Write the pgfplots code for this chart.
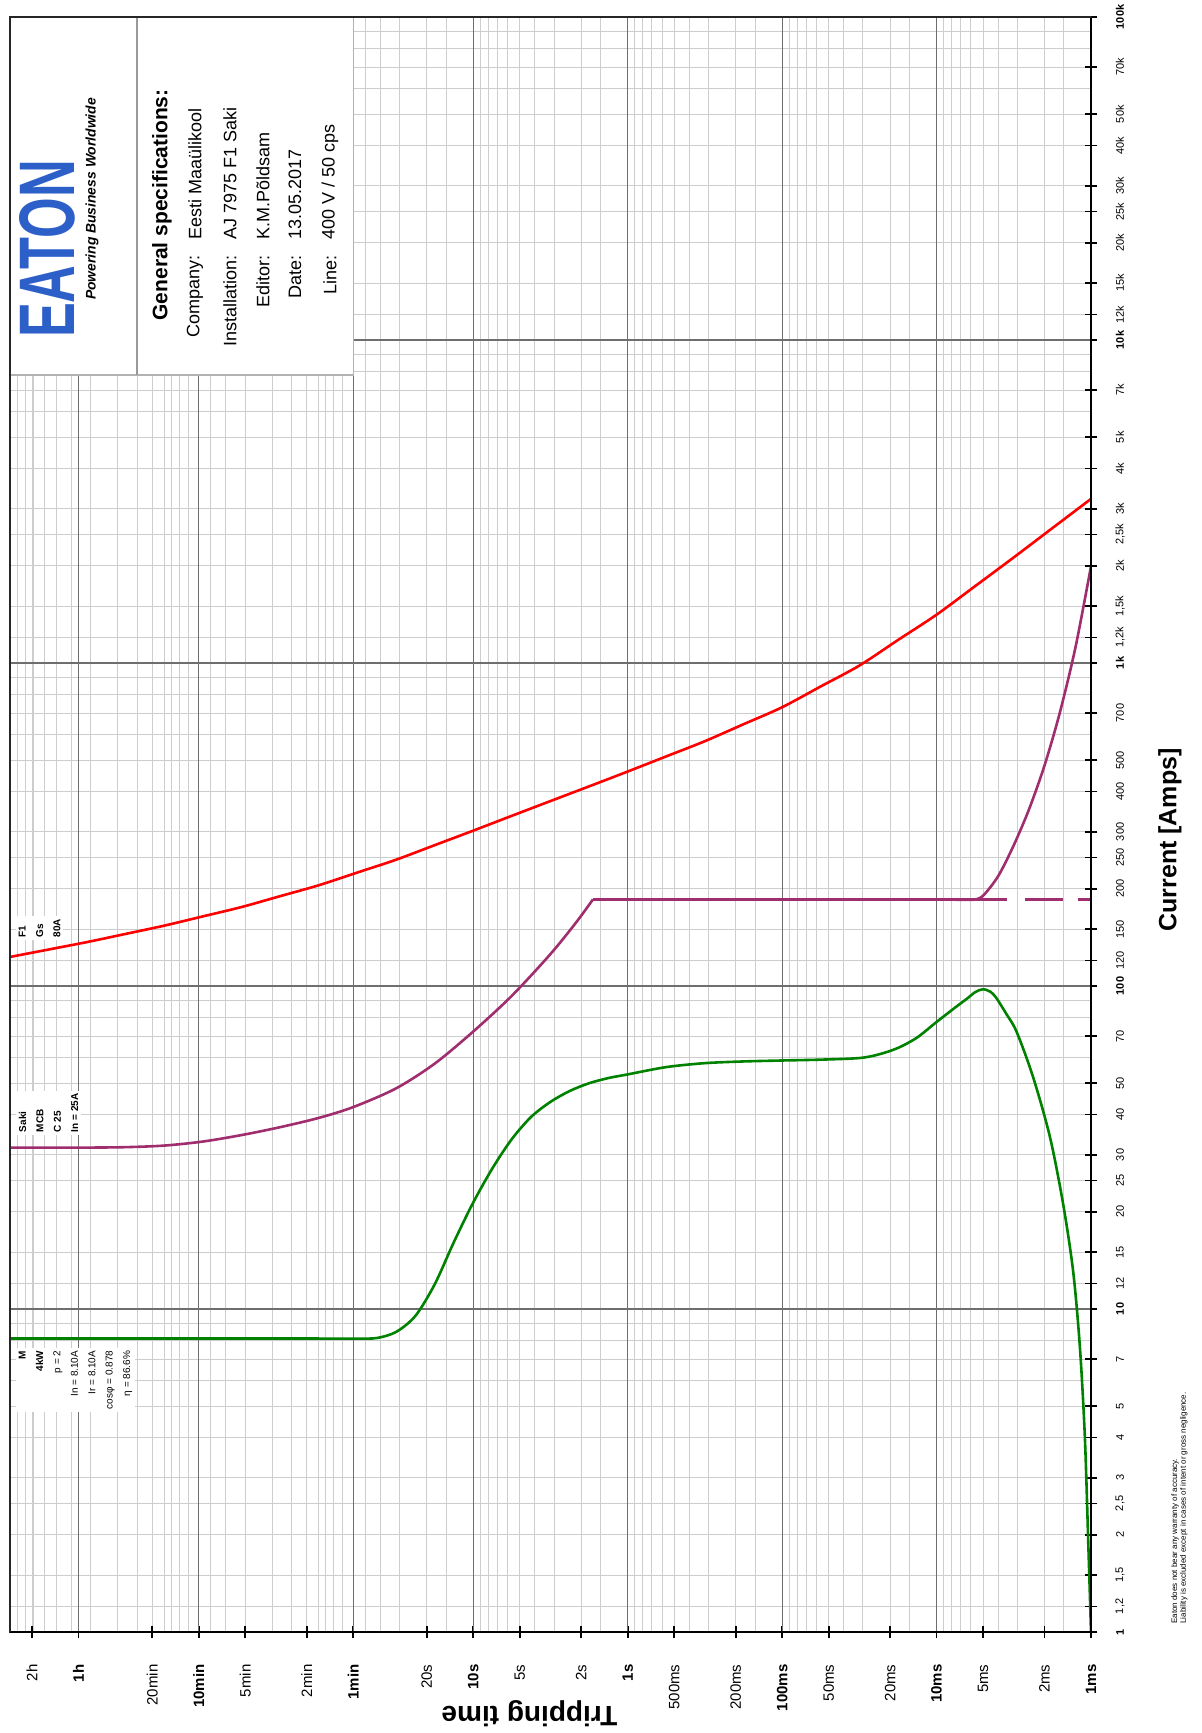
\documentclass[border=0pt]{standalone}
\usepackage{fontspec}
\setmainfont{Liberation Sans}
\usepackage{graphicx}
\usepackage{pgfplots}
\pgfplotsset{compat=1.18}
\definecolor{fuse}{RGB}{255,0,0}
\definecolor{mcb}{RGB}{160,45,110}
\definecolor{motor}{RGB}{0,130,0}
\definecolor{eaton}{RGB}{45,95,200}
\definecolor{gmin}{RGB}{205,205,205}
\definecolor{gmaj}{RGB}{110,110,110}
\begin{document}
\begin{tikzpicture}
\path[use as bounding box] (-5pt,-50.5pt) rectangle (596pt,816pt);
\begin{axis}[
  at={(0pt,0pt)}, anchor=south west,
  scale only axis, width=540.5pt, height=807.5pt,
  xmode=log, ymode=log, x dir=reverse,
  xmin=0.001, xmax=10000, ymin=1, ymax=100000,
  axis line style={black!85, line width=0.6pt},
  xtick pos=left, ytick pos=right, yticklabel pos=right,
  xtick={7200,3600,1200,600,300,120,60,20,10,5,2,1,0.5,0.2,0.1,0.05,0.02,0.01,0.005,0.002,0.001},
  xticklabels={2h,\textbf{1h},20min,\textbf{10min},5min,2min,\textbf{1min},20s,\textbf{10s},5s,2s,\textbf{1s},500ms,200ms,\textbf{100ms},50ms,20ms,\textbf{10ms},5ms,2ms,\textbf{1ms}},
  ytick={1,1.2,1.5,2,2.5,3,4,5,7,10,12,15,20,25,30,40,50,70,100,120,150,200,250,300,400,500,700,1000,1200,1500,2000,2500,3000,4000,5000,7000,10000,12000,15000,20000,25000,30000,40000,50000,70000,100000},
  yticklabels={\textbf{1},{1,2},{1,5},2,{2,5},3,4,5,7,\textbf{10},12,15,20,25,30,40,50,70,\textbf{100},120,150,200,250,300,400,500,700,\textbf{1k},{1,2k},{1,5k},2k,{2,5k},3k,4k,5k,7k,\textbf{10k},12k,15k,20k,25k,30k,40k,50k,70k,\textbf{100k}},
  minor xtick={0.001,0.0015,0.002,0.003,0.004,0.005,0.006,0.007,0.008,0.009,
    0.01,0.015,0.02,0.03,0.04,0.05,0.06,0.07,0.08,0.09,
    0.1,0.15,0.2,0.3,0.4,0.5,0.6,0.7,0.8,0.9,
    1,1.5,2,3,4,5,6,7,8,9,
    10,15,20,30,40,50,60,70,80,90,
    100,120,150,200,300,400,500,600,700,800,900,
    1000,1200,1500,2000,3000,3600,4000,5000,6000,7000,7200,8000,9000,10000},
  minor ytick={1,1.2,1.5,2,2.5,3,4,5,6,7,8,9,
    10,12,15,20,25,30,40,50,60,70,80,90,
    100,120,150,200,250,300,400,500,600,700,800,900,
    1000,1200,1500,2000,2500,3000,4000,5000,6000,7000,8000,9000,
    10000,12000,15000,20000,25000,30000,40000,50000,60000,70000,80000,90000,100000},
  xmajorgrids=false, ymajorgrids=false, xminorgrids=true, yminorgrids=true,
  minor grid style={gmin, line width=0.45pt},
  minor tick length=0pt,
  major tick length=6.5pt, tick align=center,
  tick style={black, line width=0.9pt},
  extra x ticks={0.001,0.01,0.1,1,10,60,600,3600},
  extra y ticks={10,100,1000,10000},
  extra x tick labels={}, extra y tick labels={},
  extra tick style={major tick length=0pt, grid=major, major grid style={gmaj, line width=0.6pt}},
  xticklabel style={font=\fontsize{7.5}{8}\selectfont, yshift=-9.5pt, rotate=90, anchor=east},
  yticklabel style={font=\fontsize{5.5}{6}\selectfont, xshift=11.25pt, rotate=90, anchor=center},
]
% F1 gG 80A fuse
\addplot[fuse, line width=1.3pt, smooth] coordinates {(10000,123.0) (5623,129.7) (3162,136.8) (1778,145.0) (1000,153.8) (562.3,164.3) (316.2,175.6) (177.8,189.8) (100,205.1) (56.23,224.6) (31.62,246.0) (17.78,272.9) (10,302.7) (5.623,336.5) (3.162,373.8) (1.778,415.0) (1,461.3) (0.5623,514.0) (0.3162,572.8) (0.1778,646.4) (0.1,729.5) (0.05623,846.2) (0.03162,981.7) (0.01778,1178) (0.01,1411) (0.005623,1730) (0.003162,2123) (0.001778,2616) (0.001,3221)};
% Saki MCB C25
\addplot[mcb, line width=1.3pt, smooth] coordinates {(10000,31.6) (5623,31.6) (3162,31.6) (1778,31.7) (1000,32.06) (562.3,33.0) (316.2,34.56) (177.8,36.56) (100,39.06) (60,42.17) (31.62,48.2) (17.78,57.5) (10,72.3) (5.623,93.3) (3.162,125.6) (2.148,157.8) (1.679,185.4)};
\addplot[mcb, line width=1.3pt] coordinates {(1.679,185) (0.0035,185)};
\addplot[mcb, line width=1.3pt, line cap=butt, dash pattern=on 0pt off 9.15pt on 18.85pt off 7.3pt on 30pt] coordinates {(0.0035,185) (0.001,185)};
\addplot[mcb, line width=1.3pt, smooth] coordinates {(0.0075,185) (0.00631,185) (0.005754,185) (0.005012,190.1) (0.003981,219.3) (0.003162,272.9) (0.002512,353.7) (0.001995,483.6) (0.001585,707.2) (0.001259,1121) (0.001,1993)};
% Motor 4kW
\addplot[motor, line width=1.3pt] coordinates {(10000,8.1) (100,8.1)};
\addplot[motor, line width=1.3pt, smooth] coordinates {(100,8.1) (74.99,8.1) (56.23,8.1) (42.17,8.13) (31.62,8.49) (23.71,9.52) (17.78,11.92) (13.34,16.13) (10,21.38) (7.499,27.32) (5.623,33.6) (4.217,39.36) (3.162,43.78) (2.371,47.32) (1.778,50.0) (1.334,51.88) (1,53.25) (0.5623,56.1) (0.3162,57.7) (0.1778,58.4) (0.1,58.8) (0.05623,59.15) (0.03162,59.83) (0.02371,61.4) (0.01778,64.3) (0.01334,69.3) (0.01,77.4) (0.0075,86.1) (0.00631,91.6) (0.005623,95.7) (0.005012,97.7) (0.004467,95.9) (0.00409,91.6) (0.003548,82.2) (0.00303,72.1) (0.00237,52.2) (0.001845,34.1) (0.001514,21.1) (0.001303,13.0) (0.00118,7.62) (0.001096,4.02) (0.001042,1.9) (0.001,1)};
\end{axis}
% thick right and bottom axis lines
\draw[black, line width=1.1pt] (0pt,0pt) -- (540.5pt,0pt) -- (540.5pt,807.5pt);
% specification box
\fill[white] (0pt,628.5pt) rectangle (171.7pt,807.5pt);
\draw[gray!60, line width=0.6pt] (0pt,628.5pt) -- (171.7pt,628.5pt) -- (171.7pt,807.5pt);
\draw[gray!80, line width=0.6pt] (63.5pt,628.5pt) -- (63.5pt,807.5pt);
\draw[black!85, line width=0.6pt] (0pt,0pt) -- (0pt,807.5pt) -- (540.5pt,807.5pt);
\node[rotate=90, text=eaton, inner sep=0pt] at (18.75pt,691.5pt) {\resizebox{89pt}{27.5pt}{\bfseries EATON}};
\node[rotate=90, inner sep=0pt] at (41pt,716.5pt) {\resizebox{101pt}{!}{\bfseries\itshape Powering Business Worldwide}};
\node[rotate=90, font=\bfseries\fontsize{10.5}{12}\selectfont] at (76pt,713.5pt) {General specifications:};
\begin{scope}[every node/.style={rotate=90, font=\fontsize{9}{10}\selectfont, inner sep=0pt}]
\node[anchor=east] at (92.5pt,688.5pt) {Company:};
\node[anchor=west] at (92.5pt,696pt) {Eesti Maaülikool};
\node[anchor=east] at (110pt,688.5pt) {Installation:};
\node[anchor=west] at (110pt,696pt) {AJ 7975 F1 Saki};
\node[anchor=east] at (126.5pt,688.5pt) {Editor:};
\node[anchor=west] at (126.5pt,696pt) {K.M.Põldsam};
\node[anchor=east] at (142.5pt,688.5pt) {Date:};
\node[anchor=west] at (142.5pt,696pt) {13.05.2017};
\node[anchor=east] at (160pt,688.5pt) {Line:};
\node[anchor=west] at (160pt,696pt) {400 V / 50 cps};
\end{scope}
% curve labels
\node[rotate=90, anchor=north west, align=left, fill=white, inner sep=1.2pt, font=\bfseries\fontsize{5}{8.7}\selectfont] at (3pt,346pt) {F1\\Gs\\80A};
\node[rotate=90, anchor=north west, align=left, fill=white, inner sep=1.2pt, font=\bfseries\fontsize{5}{8.7}\selectfont] at (3pt,248.5pt) {Saki\\MCB\\C 25\\In = 25A};
\node[rotate=90, anchor=north east, align=right, fill=white, inner sep=1.2pt, font=\fontsize{5}{8.7}\selectfont] at (3pt,142pt) {\textbf{M}\\\textbf{4kW}\\p = 2\\In = 8.10A\\Ir = 8.10A\\cosφ = 0.878\\η = 86.6\%};
% axis titles
\node[rotate=90, font=\bfseries\fontsize{12.5}{14}\selectfont] at (580pt,396pt) {Current [Amps]};
\node[rotate=180, font=\bfseries\fontsize{14}{16}\selectfont] at (259.75pt,-40.75pt) {Tripping time};
% footnote
\node[rotate=90, anchor=north west, align=left, inner sep=0pt, font=\fontsize{4}{4.3}\selectfont] at (580.5pt,4pt) {Eaton does not bear any warranty of accuracy.\\Liability is excluded except in cases of intent or gross negligence.};
\end{tikzpicture}
\end{document}
